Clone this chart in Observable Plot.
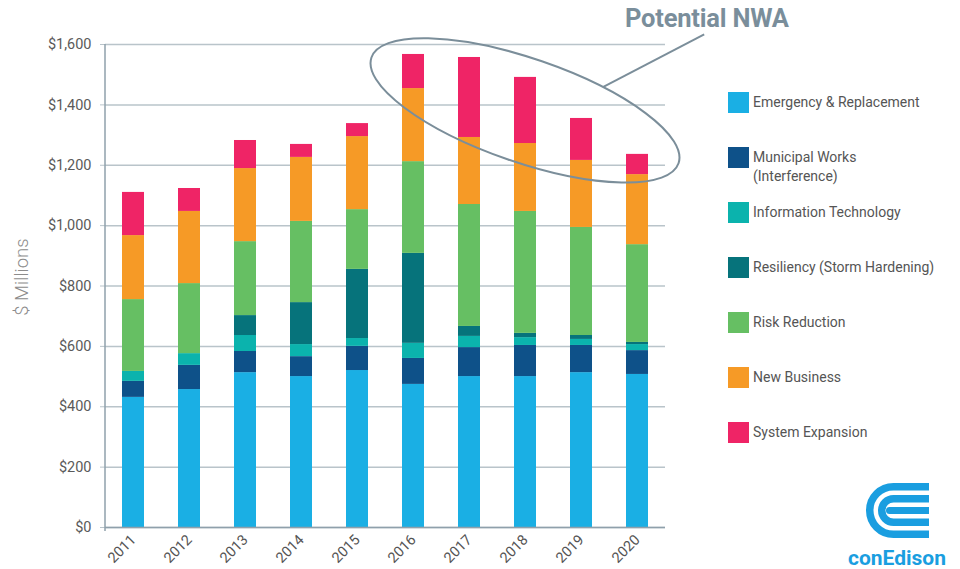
<!DOCTYPE html>
<html>
<head>
<meta charset="utf-8">
<script src="https://cdn.jsdelivr.net/npm/d3@7"></script>
<script src="https://cdn.jsdelivr.net/npm/@observablehq/plot@0.6"></script>
<style>
  body { margin: 0; background: #fff; font-family: Roboto, "Open Sans", sans-serif; }
  #wrap { position: relative; width: 960px; height: 569px; overflow: hidden; background: #fff; }
  #chart { position: absolute; left: 0; top: 0; }
  #chart svg text { font-size: 14.5px; }
  #title { position: absolute; left: 625px; top: 3px; font-size: 25.5px; font-weight: 700; color: #7a8e9b; letter-spacing: -0.2px; }
  #ylabel { position: absolute; left: 22px; top: 277px; transform: translate(-50%, -50%) rotate(-90deg); font-size: 18.5px; color: #8c8c8c; white-space: nowrap; font-weight: 300; }
  #legend { position: absolute; left: 728px; top: 92px; width: 232px; }
  .item { position: absolute; left: 0; width: 232px; display: flex; align-items: flex-start; }
  .sw { width: 21px; height: 21px; flex: none; }
  .lab { margin-left: 4px; font-size: 14px; line-height: 19px; color: #555; white-space: pre; margin-top: 1px; }
  #logo { position: absolute; left: 0; top: 0; pointer-events: none; }
</style>
</head>
<body>
<div id="wrap">
  <div id="chart"></div>
  <div id="title">Potential NWA</div>
  <div id="ylabel">$ Millions</div>
  <div id="legend"></div>
  <svg id="logo" width="960" height="569">
    <g fill="none" stroke="#1a9ee0" stroke-width="7.5">
      <path d="M929,486.75 H893.5 A23.75,23.75 0 0 0 893.5,534.25 H929"/>
      <path d="M929,498.75 H893.5 A11.75,11.75 0 0 0 893.5,522.25 H929"/>
    </g>
    <path d="M929,507 H889.5 A3.5,3.5 0 0 0 889.5,514 H929 Z" fill="#1a9ee0"/>
    <text x="897" y="565" text-anchor="middle" font-size="21" font-weight="700" fill="#1a9ee0" font-family="Roboto, sans-serif">conEdison</text>
  </svg>
</div>
<script>
// ---- data ----
const years = ["2011","2012","2013","2014","2015","2016","2017","2018","2019","2020"];
const categories = ["Emergency & Replacement","Municipal Works (Interference)","Information Technology","Resiliency (Storm Hardening)","Risk Reduction","New Business","System Expansion"];
const legendLabels = ["Emergency & Replacement","Municipal Works\n(Interference)","Information Technology","Resiliency (Storm Hardening)","Risk Reduction","New Business","System Expansion"];
const colors = ["#1aafe4","#0e5189","#0bb3ad","#06737b","#66bf63","#f69a26","#ef2466"];

const emergency       = [431, 457, 513, 500, 520, 474, 500, 500, 513, 507];
const municipal       = [ 53,  80,  70,  66,  80,  86,  96, 103,  90,  79];
const infoTech        = [ 33,  39,  53,  40,  26,  50,  37,  26,  20,  20];
const resiliency      = [  0,   0,  66, 139, 229, 298,  33,  14,  13,   7];
const riskReduction   = [238, 232, 245, 269, 198, 304, 404, 404, 358, 324];
const newBusiness     = [212, 239, 242, 212, 242, 242, 222, 225, 222, 232];
const systemExpansion = [143,  76,  93,  43,  43, 113, 265, 219, 139,  67];

const yTicks = [0, 200, 400, 600, 800, 1000, 1200, 1400, 1600];

// annotation anchor (data space)
const nwaCenterYear = "2018";
const nwaCenterValue = 1380;

const seriesValues = [emergency, municipal, infoTech, resiliency, riskReduction, newBusiness, systemExpansion];
const data = categories.flatMap((c, i) => years.map((yr, j) => ({year: yr, category: c, value: seriesValues[i][j]})));

const svgNS = "http://www.w3.org/2000/svg";

function leftAxisLine(index, scales, values, dims) {
  const g = document.createElementNS(svgNS, "line");
  const x0 = dims.marginLeft;
  g.setAttribute("x1", x0); g.setAttribute("x2", x0);
  g.setAttribute("y1", dims.marginTop); g.setAttribute("y2", dims.height - dims.marginBottom + 4);
  g.setAttribute("stroke", "#8fa0ab"); g.setAttribute("stroke-width", 1.5);
  return g;
}

function nwaAnnotation(index, scales) {
  const {x, y} = scales;
  const step = x(years[1]) - x(years[0]);
  const bw = x.bandwidth ? x.bandwidth() : step * 0.4;
  const cx = x(nwaCenterYear) + bw / 2;
  const cy = y(nwaCenterValue);
  const rx = 2.9 * step;
  const ry = y(0) - y(172);
  const ang = 19;
  const g = document.createElementNS(svgNS, "g");
  const e = document.createElementNS(svgNS, "ellipse");
  e.setAttribute("cx", cx); e.setAttribute("cy", cy);
  e.setAttribute("rx", rx); e.setAttribute("ry", ry);
  e.setAttribute("transform", `rotate(${ang} ${cx} ${cy})`);
  e.setAttribute("fill", "none"); e.setAttribute("stroke", "#7b8e9a"); e.setAttribute("stroke-width", 2);
  g.appendChild(e);
  const t = -66 * Math.PI / 180, a = ang * Math.PI / 180;
  const lx = rx * Math.cos(t), ly = ry * Math.sin(t);
  const sx = cx + lx * Math.cos(a) - ly * Math.sin(a);
  const sy = cy + lx * Math.sin(a) + ly * Math.cos(a);
  const ex = x(years[years.length - 1]) + bw / 2 + 1.2 * step;
  const ey = y(1632);
  const l = document.createElementNS(svgNS, "line");
  l.setAttribute("x1", sx); l.setAttribute("y1", sy);
  l.setAttribute("x2", ex); l.setAttribute("y2", ey);
  l.setAttribute("stroke", "#7b8e9a"); l.setAttribute("stroke-width", 2);
  g.appendChild(l);
  return g;
}

const chart = Plot.plot({
  width: 960,
  height: 569,
  marginLeft: 105,
  marginRight: 295,
  marginTop: 44,
  marginBottom: 42,
  style: {fontFamily: "Roboto, 'Open Sans', sans-serif", fontSize: "14.5px", color: "#5a5a5a", background: "transparent", overflow: "visible"},
  x: {type: "band", domain: years, paddingInner: 0.6, paddingOuter: 0.3, label: null},
  y: {domain: [0, 1600], label: null},
  color: {domain: categories, range: colors},
  marks: [
    Plot.gridY(yTicks, {stroke: "#b9c4ca", strokeOpacity: 1, strokeWidth: 1.5}),
    Plot.axisY(yTicks, {tickSize: 5, tickPadding: 9, stroke: "#b9c4ca", fill: "#5a5a5a", label: null, tickFormat: d => "$" + d3.format(",")(d), fontSize: 14.5}),
    Plot.axisX({tickSize: 0, tickRotate: -45, tickPadding: 10, label: null, fill: "#555", fontSize: 14.5}),
    Plot.barY(data, {x: "year", y: "value", fill: "category"}),
    Plot.ruleY([0], {stroke: "#8fa0ab", strokeWidth: 1.5}),
    leftAxisLine,
    nwaAnnotation
  ]
});
document.getElementById("chart").appendChild(chart);

// legend
const legend = document.getElementById("legend");
categories.forEach((c, i) => {
  const it = document.createElement("div");
  it.className = "item";
  it.style.top = (i * 55) + "px";
  const sw = document.createElement("div");
  sw.className = "sw";
  sw.style.background = colors[i];
  const lab = document.createElement("div");
  lab.className = "lab";
  lab.textContent = legendLabels[i];
  it.appendChild(sw); it.appendChild(lab);
  legend.appendChild(it);
});
</script>
</body>
</html>
